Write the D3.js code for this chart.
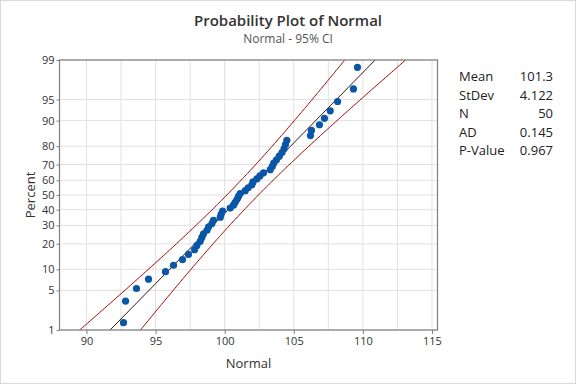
<!DOCTYPE html>
<html lang="en">
<head>
<meta charset="utf-8">
<title>Probability Plot of Normal</title>
<script src="https://cdn.jsdelivr.net/npm/d3@7"></script>
<style>
  body { margin: 0; background: #fff; }
  svg { display: block; font-family: "Open Sans", "Noto Sans", sans-serif; }
</style>
</head>
<body>
<div id="chart"></div>
<script>
// sorted sample values (50 obs)
var values = [
  92.68, 92.83, 93.62, 94.49, 95.72, 96.30, 96.95, 97.38, 97.82, 97.99,
  98.23, 98.35, 98.47, 98.72, 98.84, 99.08, 99.19, 99.68, 99.75, 99.85,
  100.40, 100.64, 100.76, 100.90, 101.00, 101.12, 101.49, 101.70, 101.97, 102.05,
  102.33, 102.55, 102.81, 103.30, 103.45, 103.55, 103.75, 103.95, 104.15, 104.30,
  104.40, 104.50, 106.21, 106.28, 106.86, 107.22, 107.64, 108.17, 109.32, 109.61
];
var percentTicks = [1, 5, 10, 20, 30, 40, 50, 60, 70, 80, 90, 95, 99];
var xTicks = [90, 95, 100, 105, 110, 115];
var xGrid = [90, 92.5, 95, 97.5, 100, 102.5, 105, 107.5, 110, 112.5, 115];
var statLabels = ["Mean", "StDev", "N", "AD", "P-Value"];
var statValues = ["101.3", "4.122", "50", "0.145", "0.967"];

var mean = 101.3, sd = 4.122, n = 50;

var width = 576, height = 384;
var m = {left: 59.5, right: 437.5, top: 60, bottom: 330};

// inverse normal cdf (Acklam)
function qnorm(p) {
  var a = [-39.69683028665376, 220.9460984245205, -275.9285104469687, 138.3577518672690, -30.66479806614716, 2.506628277459239];
  var b = [-54.47609879822406, 161.5858368580409, -155.6989798598866, 66.80131188771972, -13.28068155288572];
  var c = [-0.007784894002430293, -0.3223964580411365, -2.400758277161838, -2.549732539343734, 4.374664141464968, 2.938163982698783];
  var d = [0.007784695709041462, 0.3224671290700398, 2.445134137142996, 3.754408661907416];
  var q, r;
  if (p < 0.02425) {
    q = Math.sqrt(-2 * Math.log(p));
    return (((((c[0]*q+c[1])*q+c[2])*q+c[3])*q+c[4])*q+c[5]) / ((((d[0]*q+d[1])*q+d[2])*q+d[3])*q+1);
  } else if (p > 1 - 0.02425) {
    q = Math.sqrt(-2 * Math.log(1 - p));
    return -(((((c[0]*q+c[1])*q+c[2])*q+c[3])*q+c[4])*q+c[5]) / ((((d[0]*q+d[1])*q+d[2])*q+d[3])*q+1);
  }
  q = p - 0.5; r = q * q;
  return (((((a[0]*r+a[1])*r+a[2])*r+a[3])*r+a[4])*r+a[5])*q / (((((b[0]*r+b[1])*r+b[2])*r+b[3])*r+b[4])*r+1);
}

var zMax = qnorm(0.99);

var svg = d3.select("#chart").append("svg")
    .attr("width", width)
    .attr("height", height);

svg.append("rect")
    .attr("x", 0.5).attr("y", 0.5)
    .attr("width", width - 1).attr("height", height - 1)
    .attr("fill", "#fff").attr("stroke", "#d9d9d9");

var x = d3.scaleLinear().domain([88.05, 115.4]).range([m.left, m.right]);
var y = d3.scaleLinear().domain([-zMax, zMax]).range([m.bottom, m.top]);

// grid
svg.append("g").selectAll("line").data(xGrid).enter().append("line")
    .attr("x1", function(d) { return x(d); }).attr("x2", function(d) { return x(d); })
    .attr("y1", m.top).attr("y2", m.bottom)
    .attr("stroke", "#e1e1e1").attr("stroke-width", 1);
svg.append("g").selectAll("line").data(percentTicks).enter().append("line")
    .attr("x1", m.left).attr("x2", m.right)
    .attr("y1", function(d) { return y(qnorm(d / 100)); })
    .attr("y2", function(d) { return y(qnorm(d / 100)); })
    .attr("stroke", "#e1e1e1").attr("stroke-width", 1);

// fitted line and 95% CI
var zs = d3.range(0, 201).map(function(i) { return -zMax + i * (2 * zMax / 200); });
var ci = 1.959964;
function fit(z) { return mean + z * sd; }
function half(z) { return ci * sd * Math.sqrt((1 + z * z / 2) / n); }

var line = d3.line().x(function(d) { return x(d[0]); }).y(function(d) { return y(d[1]); });

svg.append("path")
    .attr("d", line(zs.map(function(z) { return [fit(z) - half(z), z]; })))
    .attr("fill", "none").attr("stroke", "#a00000").attr("stroke-width", 1);
svg.append("path")
    .attr("d", line(zs.map(function(z) { return [fit(z) + half(z), z]; })))
    .attr("fill", "none").attr("stroke", "#a00000").attr("stroke-width", 1);
svg.append("path")
    .attr("d", line([[fit(-zMax), -zMax], [fit(zMax), zMax]]))
    .attr("fill", "none").attr("stroke", "#3a1010").attr("stroke-width", 1);

// points, Benard median ranks
svg.append("g").selectAll("circle").data(values).enter().append("circle")
    .attr("cx", function(d) { return x(d); })
    .attr("cy", function(d, i) { return y(qnorm((i + 1 - 0.3) / (n + 0.4))); })
    .attr("r", 3.6)
    .attr("fill", "#0a56a6");

// frame
svg.append("rect")
    .attr("x", m.left).attr("y", m.top)
    .attr("width", m.right - m.left).attr("height", m.bottom - m.top)
    .attr("fill", "none").attr("stroke", "#7f7f7f").attr("stroke-width", 1.2);

// axes
var xAxis = svg.append("g")
    .attr("transform", "translate(0," + m.bottom + ")")
    .call(d3.axisBottom(x).tickValues(xTicks).tickSize(4).tickPadding(3));
var yAxis = svg.append("g")
    .attr("transform", "translate(" + m.left + ",0)")
    .call(d3.axisLeft(y).tickValues(percentTicks.map(function(p) { return qnorm(p / 100); }))
      .tickFormat(function(d, i) { return percentTicks[i]; })
      .tickSize(3).tickPadding(2));
[xAxis, yAxis].forEach(function(g) {
  g.select(".domain").remove();
  g.selectAll(".tick line").attr("stroke", "#7f7f7f");
  g.selectAll(".tick text").attr("fill", "#333").style("font-size", "11px")
    .style("font-family", "'Open Sans', sans-serif");
});

// titles
svg.append("text").attr("x", 288).attr("y", 26).attr("text-anchor", "middle")
    .style("font-size", "15px").style("font-weight", 600).attr("fill", "#333")
    .text("Probability Plot of Normal");
svg.append("text").attr("x", 288).attr("y", 43).attr("text-anchor", "middle")
    .style("font-size", "12px").attr("fill", "#555")
    .text("Normal - 95% CI");
svg.append("text").attr("x", (m.left + m.right) / 2).attr("y", 368).attr("text-anchor", "middle")
    .style("font-size", "13px").attr("fill", "#333")
    .text("Normal");
svg.append("text")
    .attr("transform", "translate(35," + ((m.top + m.bottom) / 2) + ") rotate(-90)")
    .attr("text-anchor", "middle")
    .style("font-size", "13px").attr("fill", "#333")
    .text("Percent");

// stats table
var stats = svg.append("g").selectAll("g").data(statLabels).enter().append("g")
    .attr("transform", function(d, i) { return "translate(0," + (81 + i * 18.6) + ")"; });
stats.append("text").attr("x", 459)
    .style("font-size", "13px").attr("fill", "#222")
    .text(function(d) { return d; });
stats.append("text").attr("x", 553).attr("text-anchor", "end")
    .style("font-size", "13px").attr("fill", "#222")
    .text(function(d, i) { return statValues[i]; });
</script>
</body>
</html>
